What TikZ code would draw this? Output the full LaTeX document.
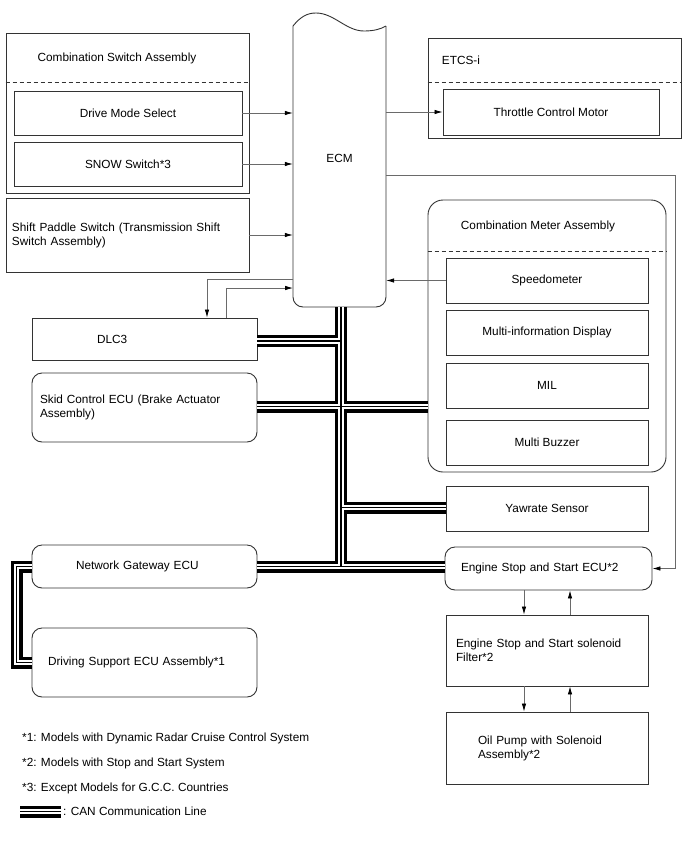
\documentclass[tikz,border=0pt]{standalone}
\usepackage{fontspec}
\setmainfont{Liberation Sans}
\usetikzlibrary{arrows.meta}
\definecolor{boxc}{HTML}{333333}
\definecolor{sigc}{HTML}{6A6A6A}
\newcommand\canroutes{%
  \path[canpass] (ttop) -- (j4) -- (netgw.east);
  \path[canpass] (j4) -- (j4 -| ess.west);
  \path[canpass] (j1) -- (j1 -| dlc.east);
  \path[canpass] (j2 -| skid.east) -- (j2 -| meter.west);
  \path[canpass] (j3) -- (j3 -| yaw.west);
  \path[canpass] (netgw.west) -- ++(-15,0) |- (drv.west);
  \path[canpass] (lg1) -- (lg2);
}
\begin{document}
\begin{tikzpicture}[x=1pt,y=-1pt,
  font=\fontsize{11.8}{14}\selectfont,
  bx/.style={draw=boxc, line width=0.9pt, inner sep=0pt},
  rbx/.style={bx, rounded corners=10pt},
  lbl/.style={inner sep=0pt, align=left},
  sepline/.style={draw=boxc, line width=0.8pt, dash pattern=on 4pt off 3pt},
  sig/.style={draw=sigc, line width=0.8pt, -{Latex[length=8pt,width=4.5pt,color=black]}},
  ]
\fill[white] (0,0) rectangle (688,852);
\useasboundingbox (0,0) rectangle (688,852);

% ---- left side ----
\node[bx, minimum width=243, minimum height=160] (csa) at (127.5,113) {};
\node[lbl] (csat) at (117,58) {Combination Switch Assembly};
\draw[sepline] (csa.west |- 0,82) -- (csa.east |- 0,82);
\node[bx, minimum width=228, minimum height=44] (dms) at (128,113) {Drive Mode Select};
\node[bx, minimum width=228, minimum height=44] (snow) at (128,164) {SNOW Switch*3};
\node[bx, minimum width=243, minimum height=74, text width=231, inner xsep=6, align=left] (shift) at (127.5,235)
  {Shift Paddle Switch (Transmission Shift\\Switch Assembly)};

\node[bx, minimum width=225, minimum height=42, text width=95, inner xsep=65, align=left] (dlc) at (144.5,339) {DLC3};
\node[rbx, minimum width=225, minimum height=69, text width=209, inner xsep=8, align=left] (skid) at (144.5,407.5)
  {Skid Control ECU (Brake Actuator\\Assembly)};
\node[rbx, minimum width=225, minimum height=43, text width=137, inner xsep=44, align=left] (netgw) at (144.5,566.5) {Network Gateway ECU};
\node[rbx, minimum width=225, minimum height=69, text width=193, inner xsep=16, align=left] (drv) at (144.5,662.5) {Driving Support ECU Assembly*1};

% ---- ECM ----
\node[minimum width=93, minimum height=297, inner sep=0pt] (ecm) at (339.5,158.5) {ECM};
\draw[boxc, line width=0.9pt, rounded corners=10pt] (293,26) -- (293,307) -- (386,307) -- (386,26);
\draw[boxc, line width=0.9pt] (293,26) .. controls (301,16) and (308,13) .. (316,13)
  .. controls (334,13) and (346,31) .. (364,31) .. controls (374,31) and (381,29) .. (386,26);

% ---- right side ----
\node[bx, minimum width=253, minimum height=100] (etcs) at (554.5,88) {};
\node[lbl] (etcst) at (461,60) {ETCS-i};
\draw[sepline] (etcs.west |- 0,82) -- (etcs.east |- 0,82);
\node[bx, minimum width=216, minimum height=46] (thr) at (551,112) {Throttle Control Motor};

\node[bx, rounded corners=15pt, minimum width=238, minimum height=272] (meter) at (547,336) {};
\node[lbl] (metert) at (538,226) {Combination Meter Assembly};
\draw[sepline] (meter.west |- 0,251) -- (meter.east |- 0,251);
\node[bx, minimum width=202, minimum height=45] (speedo) at (547,280.5) {Speedometer};
\node[bx, minimum width=202, minimum height=45] (mid) at (547,332.5) {Multi-information Display};
\node[bx, minimum width=202, minimum height=45] (mil) at (547,385.5) {MIL};
\node[bx, minimum width=202, minimum height=45] (buz) at (547,442.5) {Multi Buzzer};
\node[bx, minimum width=202, minimum height=45] (yaw) at (547,508.5) {Yawrate Sensor};
\node[rbx, minimum width=205, minimum height=43, text width=175, inner xsep=16, align=left] (ess) at (548.5,568.5) {Engine Stop and Start ECU*2};
\node[bx, minimum width=202, minimum height=71, text width=182, inner xsep=10, align=left] (filt) at (547,650.5)
  {Engine Stop and Start solenoid\\Filter*2};
\node[bx, minimum width=202, minimum height=72, text width=138, inner xsep=32, align=left] (oil) at (547,748)
  {Oil Pump with Solenoid\\Assembly*2};

% ---- notes ----
\node[lbl, anchor=west] (n1) at (22,738) {*1: Models with Dynamic Radar Cruise Control System};
\node[lbl, anchor=west] (n2) at (22,763) {*2: Models with Stop and Start System};
\node[lbl, anchor=west] (n3) at (22,788) {*3: Except Models for G.C.C. Countries};
\node[lbl, anchor=west] (n4) at (63,811.5) {: CAN Communication Line};

% ---- CAN lines ----
\coordinate (ttop) at (341,307);
\coordinate (j1) at (341,341);
\coordinate (j2) at (341,406.5);
\coordinate (j3) at (341,507.5);
\coordinate (j4) at (341,566.5);
\coordinate (lg1) at (20,811.5);
\coordinate (lg2) at (61,811.5);
\begin{scope}[canpass/.style={draw=black, line width=12pt}]\canroutes\end{scope}
\begin{scope}[canpass/.style={draw=white, line width=5.6pt}]\canroutes\end{scope}
\begin{scope}[canpass/.style={draw=black, line width=1.2pt}]\canroutes\end{scope}

% ---- signal lines ----
\draw[sig] (dms.east) -- (dms.east -| ecm.west);
\draw[sig] (snow.east) -- (snow.east -| ecm.west);
\draw[sig] (shift.east) -- (shift.east -| ecm.west);
\draw[sig] (thr.west -| ecm.east) -- (thr.west);
\draw[sig] (speedo.west) -- (speedo.west -| ecm.east);
\coordinate (ecmout) at (386,175);
\coordinate (essbend) at (675,175);
\draw[sig] (ecmout) -- (essbend) |- (ess.east);
\coordinate (ecmdl) at (293,279);
\coordinate (ecmdlin) at (293,288);
\coordinate (xdown) at (207,0);
\coordinate (xup) at (226,0);
\draw[sig] (ecmdl) -| (xdown |- dlc.north);
\draw[sig] (xup |- dlc.north) |- (ecmdlin);
\coordinate (xa) at (524,0);
\coordinate (xb) at (570,0);
\draw[sig] (xa |- ess.south) -- (xa |- filt.north);
\draw[sig] (xb |- filt.north) -- (xb |- ess.south);
\draw[sig] (xa |- filt.south) -- (xa |- oil.north);
\draw[sig] (xb |- oil.north) -- (xb |- filt.south);
\end{tikzpicture}
\end{document}
